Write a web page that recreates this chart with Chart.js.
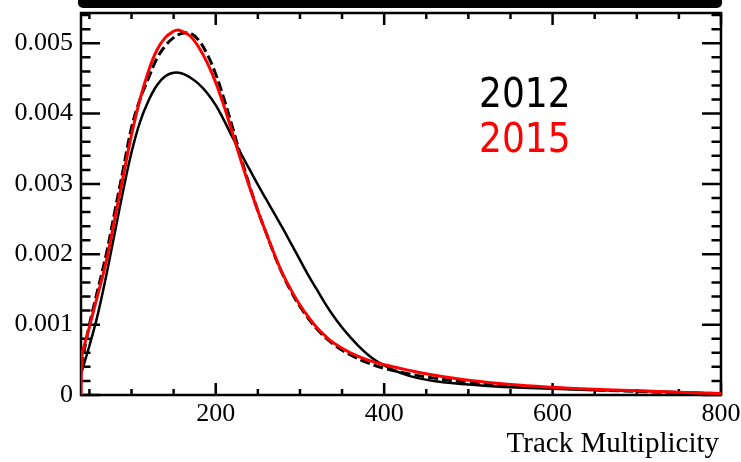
<!DOCTYPE html>
<html>
<head>
<meta charset="utf-8">
<script src="https://cdn.jsdelivr.net/npm/chart.js@4.4.1/dist/chart.umd.min.js"></script>
<style>
  body { margin: 0; background: #fff; }
  #wrap { width: 741px; height: 462px; }
</style>
</head>
<body>
<div id="wrap"><canvas id="chart" width="741" height="462"></canvas></div>
<script>
// Track multiplicity distributions

// 2015 (red, solid)
const mult2015 = [40, 41, 45, 50, 55, 60, 70, 80, 90, 100, 110, 120, 130, 140, 150, 155, 160, 170, 180, 190, 200, 210, 220, 230, 240, 250, 260, 270, 280, 290, 300, 310, 320, 330, 340, 360, 380, 400, 430, 460, 500, 550, 600, 650, 700, 750, 800];
const dens2015 = [0, 0.00055, 0.00075, 0.00097, 0.0012, 0.00143, 0.0019, 0.0025, 0.0031, 0.0037, 0.0042, 0.0046, 0.0049, 0.00508, 0.00517, 0.00519, 0.00517, 0.0051, 0.00494, 0.00472, 0.00444, 0.0041, 0.00372, 0.00333, 0.00296, 0.00262, 0.0023, 0.00199, 0.00171, 0.00148, 0.00128, 0.00111, 0.00096, 0.00084, 0.00074, 0.0006, 0.0005, 0.00043, 0.00035, 0.00028, 0.00021, 0.00015, 0.00011, 0.00008, 0.00006, 0.00004, 0.00002];

// 2012 (black, solid)
const mult2012 = [40, 50, 60, 70, 80, 90, 100, 110, 120, 130, 140, 150, 160, 170, 180, 190, 200, 210, 220, 230, 240, 250, 260, 270, 280, 290, 300, 310, 320, 330, 340, 350, 360, 370, 380, 390, 400, 420, 440, 470, 500, 550, 600, 650, 700, 750, 800];
const dens2012 = [0.0003, 0.0007, 0.00115, 0.0017, 0.0023, 0.0029, 0.00345, 0.00388, 0.00418, 0.0044, 0.00453, 0.00458, 0.00457, 0.00451, 0.00442, 0.00429, 0.00412, 0.0039, 0.00366, 0.00343, 0.00321, 0.00299, 0.00278, 0.00257, 0.00236, 0.00214, 0.00192, 0.0017, 0.0015, 0.0013, 0.00112, 0.00096, 0.00082, 0.00069, 0.00058, 0.00049, 0.00042, 0.00031, 0.00024, 0.00018, 0.00015, 0.00011, 0.00009, 0.00007, 0.00006, 0.00004, 0.00002];

// 2012 reweighted (black, dashed)
const multRw = [40, 50, 60, 70, 80, 90, 100, 110, 120, 130, 140, 150, 160, 170, 180, 190, 200, 210, 220, 230, 240, 250, 260, 270, 280, 290, 300, 320, 340, 360, 380, 400, 430, 460, 500, 550, 600, 700, 800];
const densRw = [0.0004, 0.001, 0.0015, 0.002, 0.0026, 0.0032, 0.0038, 0.0042, 0.0045, 0.00478, 0.00496, 0.00508, 0.00514, 0.00514, 0.00504, 0.00484, 0.00456, 0.0042, 0.0038, 0.00338, 0.00298, 0.00262, 0.0023, 0.00198, 0.0017, 0.00146, 0.00126, 0.00094, 0.00072, 0.00057, 0.00046, 0.00038, 0.0003, 0.00024, 0.00018, 0.00013, 0.0001, 0.00005, 0.00002];

// axis ticks
const xMajorTicks = [200, 400, 600, 800];
const xMinorTicks = [50, 100, 150, 250, 300, 350, 450, 500, 550, 650, 700, 750];
const yMajorTicks = [0, 0.001, 0.002, 0.003, 0.004, 0.005];
const yMinorTicks = [0.0002, 0.0004, 0.0006, 0.0008, 0.0012, 0.0014, 0.0016, 0.0018, 0.0022, 0.0024, 0.0026, 0.0028, 0.0032, 0.0034, 0.0036, 0.0038, 0.0042, 0.0044, 0.0046, 0.0048, 0.0052, 0.0054];
const yLabels = ['0', '0.001', '0.002', '0.003', '0.004', '0.005'];

function toPoints(xs, ys) {
    return xs.map((x, i) => ({ x: x, y: ys[i] }));
}

const serif = '"Liberation Serif", "Times New Roman", serif';

// frame with inward ticks on all four sides, plus the year labels
const framePlugin = {
    id: 'frame',
    beforeDatasetsDraw(chart) {
        const { ctx, chartArea: a, scales } = chart;
        const x = scales.x, y = scales.y;
        ctx.save();
        ctx.strokeStyle = '#000';
        ctx.lineWidth = 2.5;
        ctx.strokeRect(a.left, a.top, a.right - a.left, a.bottom - a.top);
        ctx.beginPath();
        const xTick = (v, len) => {
            const px = x.getPixelForValue(v);
            ctx.moveTo(px, a.bottom); ctx.lineTo(px, a.bottom - len);
            ctx.moveTo(px, a.top); ctx.lineTo(px, a.top + len);
        };
        const yTick = (v, len) => {
            const py = y.getPixelForValue(v);
            ctx.moveTo(a.left, py); ctx.lineTo(a.left + len, py);
            ctx.moveTo(a.right, py); ctx.lineTo(a.right - len, py);
        };
        xMinorTicks.forEach(v => xTick(v, 6));
        xMajorTicks.forEach(v => xTick(v, 12));
        yMinorTicks.forEach(v => yTick(v, 9.5));
        yMajorTicks.forEach(v => yTick(v, 19));
        ctx.stroke();
        ctx.restore();
    },
    afterDraw(chart) {
        const { ctx, chartArea: a } = chart;
        ctx.save();
        // black bar along the top edge
        ctx.fillStyle = '#000';
        ctx.beginPath();
        ctx.roundRect(78, -5, 644, 13, 5);
        ctx.fill();

        ctx.font = '40px "DejaVu Sans Condensed", "DejaVu Sans", sans-serif';
        ctx.textAlign = 'left';
        ctx.textBaseline = 'alphabetic';
        ctx.fillStyle = '#000';
        ctx.fillText('2012', 479, 107);
        ctx.fillStyle = '#ff0000';
        ctx.fillText('2015', 479, 152);

        ctx.font = '29px ' + serif;
        ctx.fillStyle = '#000';
        ctx.textAlign = 'right';
        ctx.fillText('Track Multiplicity', a.right - 2, 452);
        ctx.restore();
    }
};

const ctx = document.getElementById('chart').getContext('2d');
const chart = new Chart(ctx, {
    type: 'line',
    data: {
        datasets: [
            {
                label: '2015',
                data: toPoints(mult2015, dens2015),
                borderColor: '#ff0000',
                borderWidth: 3,
                tension: 0.4,
                pointRadius: 0
            },
            {
                label: '2012 reweighted',
                data: toPoints(multRw, densRw),
                borderColor: '#000',
                borderWidth: 3,
                borderDash: [10, 4],
                tension: 0.4,
                pointRadius: 0
            },
            {
                label: '2012',
                data: toPoints(mult2012, dens2012),
                borderColor: '#000',
                borderWidth: 2.5,
                tension: 0.4,
                pointRadius: 0
            }
        ]
    },
    options: {
        responsive: false,
        animation: false,
        layout: { padding: { top: 13, right: 20, left: 0, bottom: 0 } },
        plugins: {
            legend: { display: false },
            tooltip: { enabled: false }
        },
        scales: {
            x: {
                type: 'linear',
                min: 40,
                max: 800,
                grid: { display: false, drawTicks: false },
                border: { display: false },
                afterBuildTicks: s => { s.ticks = xMajorTicks.map(v => ({ value: v })); },
                afterFit: s => { s.height = 67; s.paddingLeft = 0; s.paddingRight = 0; },
                ticks: {
                    autoSkip: false,
                    maxRotation: 0,
                    padding: 4,
                    color: '#000',
                    font: { family: serif, size: 26 }
                }
            },
            y: {
                min: 0,
                max: 0.00543,
                grid: { display: false, drawTicks: false },
                border: { display: false },
                afterBuildTicks: s => { s.ticks = yMajorTicks.map(v => ({ value: v })); },
                afterFit: s => { s.width = 81; s.paddingTop = 0; s.paddingBottom = 0; },
                ticks: {
                    padding: 8,
                    color: '#000',
                    font: { family: serif, size: 26 },
                    callback: (v, i) => yLabels[i]
                }
            }
        }
    },
    plugins: [framePlugin]
});
</script>
</body>
</html>
